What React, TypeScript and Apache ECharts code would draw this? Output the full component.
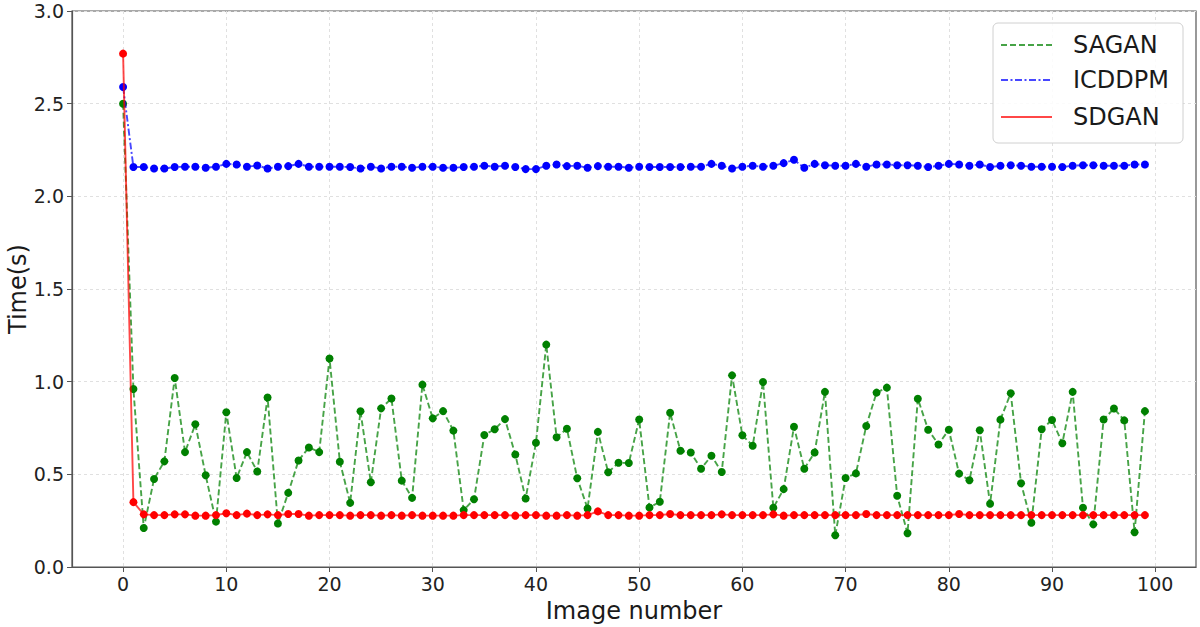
import React, { useEffect, useRef } from "react";
import * as echarts from "echarts";

const xTicks = [0, 10, 20, 30, 40, 50, 60, 70, 80, 90, 100];

const sagan = [
  2.5, 0.96, 0.21, 0.475, 0.57, 1.02, 0.62, 0.77, 0.495, 0.245,
  0.835, 0.48, 0.62, 0.515, 0.915, 0.235, 0.40, 0.575, 0.645, 0.62,
  1.125, 0.568, 0.346, 0.84, 0.457, 0.856, 0.909, 0.466, 0.373, 0.984,
  0.802, 0.841, 0.736, 0.307, 0.366, 0.712, 0.743, 0.798, 0.607, 0.37,
  0.67, 1.2, 0.70, 0.746, 0.479, 0.316, 0.729, 0.511, 0.5625, 0.561,
  0.796, 0.321, 0.352, 0.832, 0.627, 0.618, 0.53, 0.60, 0.5125, 1.034,
  0.711, 0.654, 0.998, 0.32, 0.42, 0.757, 0.53, 0.618, 0.945, 0.171,
  0.48, 0.505, 0.761, 0.941, 0.968, 0.384, 0.182, 0.908, 0.741, 0.661,
  0.741, 0.504, 0.468, 0.7375, 0.341, 0.795, 0.9375, 0.452, 0.239, 0.743,
  0.793, 0.668, 0.945, 0.32, 0.23, 0.796, 0.855, 0.791, 0.1875, 0.841,
];

const icddpm = [
  2.59, 2.158, 2.158, 2.15, 2.15, 2.158, 2.16, 2.16, 2.154, 2.16,
  2.175, 2.172, 2.16, 2.166, 2.15, 2.16, 2.163, 2.175, 2.16, 2.16,
  2.16, 2.16, 2.158, 2.15, 2.16, 2.15, 2.16, 2.16, 2.154, 2.16,
  2.16, 2.154, 2.154, 2.158, 2.16, 2.165, 2.16, 2.165, 2.158, 2.147,
  2.147, 2.165, 2.172, 2.163, 2.165, 2.154, 2.163, 2.16, 2.16, 2.154,
  2.16, 2.158, 2.158, 2.158, 2.158, 2.16, 2.16, 2.175, 2.165, 2.15,
  2.16, 2.165, 2.16, 2.165, 2.179, 2.197, 2.154, 2.175, 2.168, 2.165,
  2.165, 2.175, 2.16, 2.172, 2.172, 2.168, 2.168, 2.165, 2.158, 2.165,
  2.175, 2.172, 2.165, 2.172, 2.158, 2.165, 2.168, 2.165, 2.16, 2.16,
  2.16, 2.158, 2.165, 2.168, 2.168, 2.165, 2.165, 2.165, 2.172, 2.172,
];

const sdgan = [
  2.77, 0.35, 0.284, 0.28, 0.28, 0.284, 0.284, 0.277, 0.277, 0.28,
  0.29, 0.28, 0.288, 0.28, 0.284, 0.28, 0.286, 0.286, 0.277, 0.28,
  0.28, 0.28, 0.277, 0.28, 0.28, 0.277, 0.28, 0.277, 0.28, 0.277,
  0.277, 0.277, 0.277, 0.28, 0.28, 0.28, 0.28, 0.28, 0.277, 0.28,
  0.28, 0.277, 0.277, 0.28, 0.277, 0.28, 0.30, 0.28, 0.28, 0.277,
  0.277, 0.28, 0.28, 0.286, 0.28, 0.28, 0.28, 0.28, 0.284, 0.28,
  0.28, 0.28, 0.28, 0.284, 0.277, 0.28, 0.28, 0.28, 0.28, 0.28,
  0.28, 0.28, 0.286, 0.28, 0.28, 0.28, 0.28, 0.28, 0.28, 0.28,
  0.28, 0.286, 0.28, 0.28, 0.28, 0.28, 0.28, 0.28, 0.28, 0.28,
  0.28, 0.28, 0.28, 0.28, 0.28, 0.28, 0.28, 0.28, 0.28, 0.28,
];

const seriesNames = ["SAGAN", "ICDDPM", "SDGAN"];
const seriesColors = ["#008000", "#0000ff", "#ff0000"];
const seriesDash: (number[] | "solid")[] = [[6, 3], [7, 2.5, 2, 2.5], "solid"];
const xTitle = "Image number";
const yTitle = "Time(s)";

const FONT = "DejaVu Sans";

export default function App() {
  const ref = useRef<HTMLDivElement>(null);
  useEffect(() => {
    if (!ref.current) return;
    const chart = echarts.init(ref.current, null, { renderer: "svg" });
    const all = [sagan, icddpm, sdgan];
    const series = all.map((vals, k) => ({
      name: seriesNames[k],
      type: "line",
      data: vals.map((v, i) => [i, v]),
      symbol: "circle",
      symbolSize: 8,
      showSymbol: true,
      z: k === 2 ? 4 : k === 1 ? 3 : 2,
      lineStyle: {
        color: seriesColors[k],
        width: 1.9,
        type: seriesDash[k],
        opacity: 0.72,
      },
      itemStyle: { color: seriesColors[k], opacity: 1 },
      emphasis: { disabled: true },
    }));

    const legendX = 993;
    const legendY = 23;
    const rows = [45, 80, 117];
    const graphic: any[] = [
      {
        type: "rect",
        shape: { x: legendX, y: legendY, width: 190, height: 120, r: 5 },
        style: { fill: "rgba(255,255,255,0.85)", stroke: "#d0d0d0", lineWidth: 1 },
        z: 100,
      },
      {
        type: "text",
        x: 18,
        y: 289,
        rotation: Math.PI / 2,
        style: {
          text: yTitle,
          fontSize: 24,
          fontFamily: FONT,
          fill: "#1a1a1a",
          align: "center",
          verticalAlign: "middle",
        },
      },
      {
        type: "text",
        x: 634,
        y: 611,
        style: {
          text: xTitle,
          fontSize: 24,
          fontFamily: FONT,
          fill: "#1a1a1a",
          align: "center",
          verticalAlign: "middle",
        },
      },
    ];
    rows.forEach((y, k) => {
      graphic.push({
        type: "line",
        shape: { x1: 1001, y1: y, x2: 1052, y2: y },
        style: {
          stroke: seriesColors[k],
          lineWidth: 1.9,
          opacity: 0.72,
          lineDash: seriesDash[k] === "solid" ? null : seriesDash[k],
        },
        z: 101,
      });
      graphic.push({
        type: "text",
        x: 1073,
        y: y,
        style: {
          text: seriesNames[k],
          fontSize: 24,
          fontFamily: FONT,
          fill: "#1a1a1a",
          verticalAlign: "middle",
          align: "left",
        },
        z: 101,
      });
    });

    chart.setOption({
      animation: false,
      backgroundColor: "#ffffff",
      grid: {
        left: 72,
        right: 4,
        top: 11,
        bottom: 60,
        show: true,
        borderColor: "#555",
        borderWidth: 1.2,
        containLabel: false,
        outerBoundsMode: "none",
      },
      xAxis: {
        type: "value",
        min: -4.95,
        max: 103.95,
        axisLine: { show: true, onZero: false, lineStyle: { color: "#555", width: 1.2 } },
        axisTick: {
          show: true,
          length: 5,
          customValues: xTicks,
          lineStyle: { color: "#555" },
        },
        axisLabel: {
          customValues: xTicks,
          fontSize: 19,
          fontFamily: FONT,
          color: "#222",
          margin: 7,
        },
        splitLine: {
          show: true,
          lineStyle: { color: "#e0e0e0", type: [3, 3], width: 1 },
        },
      },
      yAxis: {
        type: "value",
        min: 0,
        max: 3,
        interval: 0.5,
        axisLine: { show: true, onZero: false, lineStyle: { color: "#555", width: 1.2 } },
        axisTick: { show: true, length: 5, lineStyle: { color: "#555" } },
        axisLabel: {
          fontSize: 19,
          fontFamily: FONT,
          color: "#222",
          margin: 8,
          formatter: (v: number) => v.toFixed(1),
        },
        splitLine: {
          show: true,
          lineStyle: { color: "#e0e0e0", type: [3, 3], width: 1 },
        },
      },
      graphic,
      series,
    });
    return () => chart.dispose();
  }, []);
  return (
    <div
      ref={ref}
      style={{ position: "fixed", left: 0, top: 0, width: 1200, height: 627 }}
    />
  );
}
